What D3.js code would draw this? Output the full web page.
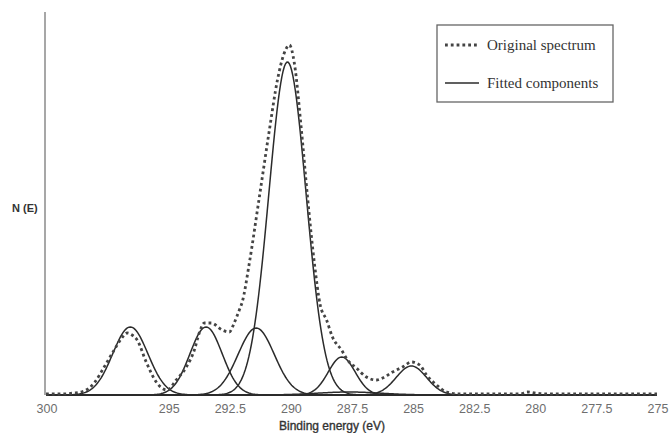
<!DOCTYPE html>
<html>
<head>
<meta charset="utf-8">
<script src="https://cdn.jsdelivr.net/npm/d3@7"></script>
<style>
  body { margin: 0; background: #fff; }
  #chart { width: 670px; height: 433px; }
</style>
</head>
<body>
<div id="chart"></div>
<script>
// measured spectrum (binding energy eV, intensity a.u.)
const spectrumEnergy = [300.0, 299.47, 298.85, 298.44, 298.03, 297.62, 297.21, 296.93, 296.68, 296.48, 296.27, 295.9, 295.49, 295.04,
	294.67, 294.26, 293.93, 293.73, 293.52, 293.24, 292.79, 292.5, 292.3, 292.09, 291.97, 291.68, 291.27, 290.86, 290.53,
	290.25, 290.04, 289.84, 289.55, 289.3, 289.02, 288.78, 288.52, 288.28, 287.91, 287.66, 287.3, 286.89, 286.48, 286.23,
	285.82, 285.41, 285.04, 284.71, 284.43, 284.02, 283.61, 283.07, 282.5, 281.5, 280.6, 280.3, 280.0, 279.5, 278.5, 277.5, 276.0, 275.0];
const spectrumIntensity = [1, 1, 2, 4, 12, 28, 45, 56, 62, 60, 55, 33, 13, 5,
	15, 28, 45, 62, 72, 72, 65, 63, 72, 85, 93, 132, 198, 265, 315,
	342, 350, 332, 265, 198, 132, 90, 75, 58, 45, 35, 27, 18, 15, 17,
	23, 28, 33, 30, 20, 10, 3, 1, 1, 1, 1, 3, 2, 1, 1, 1, 1, 1];

// fitted peaks
const peakCenters = [296.55, 293.45, 291.4, 290.12, 287.9, 285.05, 287.6];
const peakHeights = [68, 68, 67, 333, 38, 29, 3];
const peakSigmas = [0.72, 0.66, 0.74, 0.76, 0.55, 0.62, 1.3];

const xTicks = [300, 295, 292.5, 290, 287.5, 285, 282.5, 280, 277.5, 275];
const legendLabels = ['Original spectrum', 'Fitted components'];

const svg = d3.select('#chart').append('svg').attr('width', 670).attr('height', 433);

const x = d3.scaleLinear().domain([300, 275]).range([46, 657]);
const y = d3.scaleLinear().domain([0, 383]).range([395, 12]);

// y axis (no ticks)
svg.append('line')
	.attr('x1', 45).attr('x2', 45)
	.attr('y1', y(383)).attr('y2', y(0))
	.attr('stroke', '#8a8a8a').attr('stroke-width', 1.5);

// fitted components
const energies = d3.range(300, 274.99, -0.05);
const line = d3.line().x((d) => x(d[0])).y((d) => y(d[1])).curve(d3.curveLinear);

peakCenters.forEach((c, i) => {
	const pts = energies.map((e) => [e, peakHeights[i] * Math.exp(-((e - c) ** 2) / (2 * peakSigmas[i] ** 2))]);
	svg.append('path')
		.attr('d', line(pts))
		.attr('fill', 'none')
		.attr('stroke', '#2b2b2b')
		.attr('stroke-width', 1.5);
});

// original spectrum, dotted
const specLine = d3.line().x((d) => x(d[0])).y((d) => y(d[1])).curve(d3.curveMonotoneX);
svg.append('path')
	.attr('d', specLine(spectrumEnergy.map((e, i) => [e, spectrumIntensity[i]])))
	.attr('fill', 'none')
	.attr('stroke', '#444')
	.attr('stroke-width', 2.8)
	.attr('stroke-dasharray', '2.8,3');

// x tick labels
svg.append('g')
	.selectAll('text')
	.data(xTicks)
	.enter()
	.append('text')
	.attr('x', (d) => x(d) + 1)
	.attr('y', 413)
	.attr('text-anchor', 'middle')
	.style('font-family', 'Liberation Sans, Arial, sans-serif')
	.style('font-size', '12.5px')
	.style('fill', '#6e6e6e')
	.text((d) => d);

svg.append('text')
	.attr('x', 332)
	.attr('y', 430)
	.attr('text-anchor', 'middle')
	.style('font-family', 'Liberation Sans, Arial, sans-serif')
	.style('font-size', '12px')
	.style('fill', '#333')
	.style('stroke', '#333')
	.style('stroke-width', 0.35)
	.text('Binding energy (eV)');

svg.append('text')
	.attr('x', 12)
	.attr('y', 212)
	.style('font-family', 'Liberation Sans, Arial, sans-serif')
	.style('font-size', '11px')
	.style('font-weight', 'bold')
	.style('fill', '#333')
	.text('N (E)');

// legend
const legend = svg.append('g');
legend.append('rect')
	.attr('x', 437).attr('y', 25)
	.attr('width', 176).attr('height', 77)
	.attr('fill', '#fff')
	.attr('stroke', '#666').attr('stroke-width', 1.3);

legendLabels.forEach((label, i) => {
	const ly = i === 0 ? 45 : 83;
	legend.append('line')
		.attr('x1', 445).attr('x2', 479)
		.attr('y1', ly).attr('y2', ly)
		.attr('stroke', i === 0 ? '#444' : '#2b2b2b')
		.attr('stroke-width', i === 0 ? 2.8 : 1.5)
		.attr('stroke-dasharray', i === 0 ? '2.8,3' : null);
	legend.append('text')
		.attr('x', 487).attr('y', ly + 5)
		.style('font-family', 'Liberation Serif, Times New Roman, serif')
		.style('font-size', '15px')
		.style('fill', '#333')
		.text(label);
});
</script>
</body>
</html>
